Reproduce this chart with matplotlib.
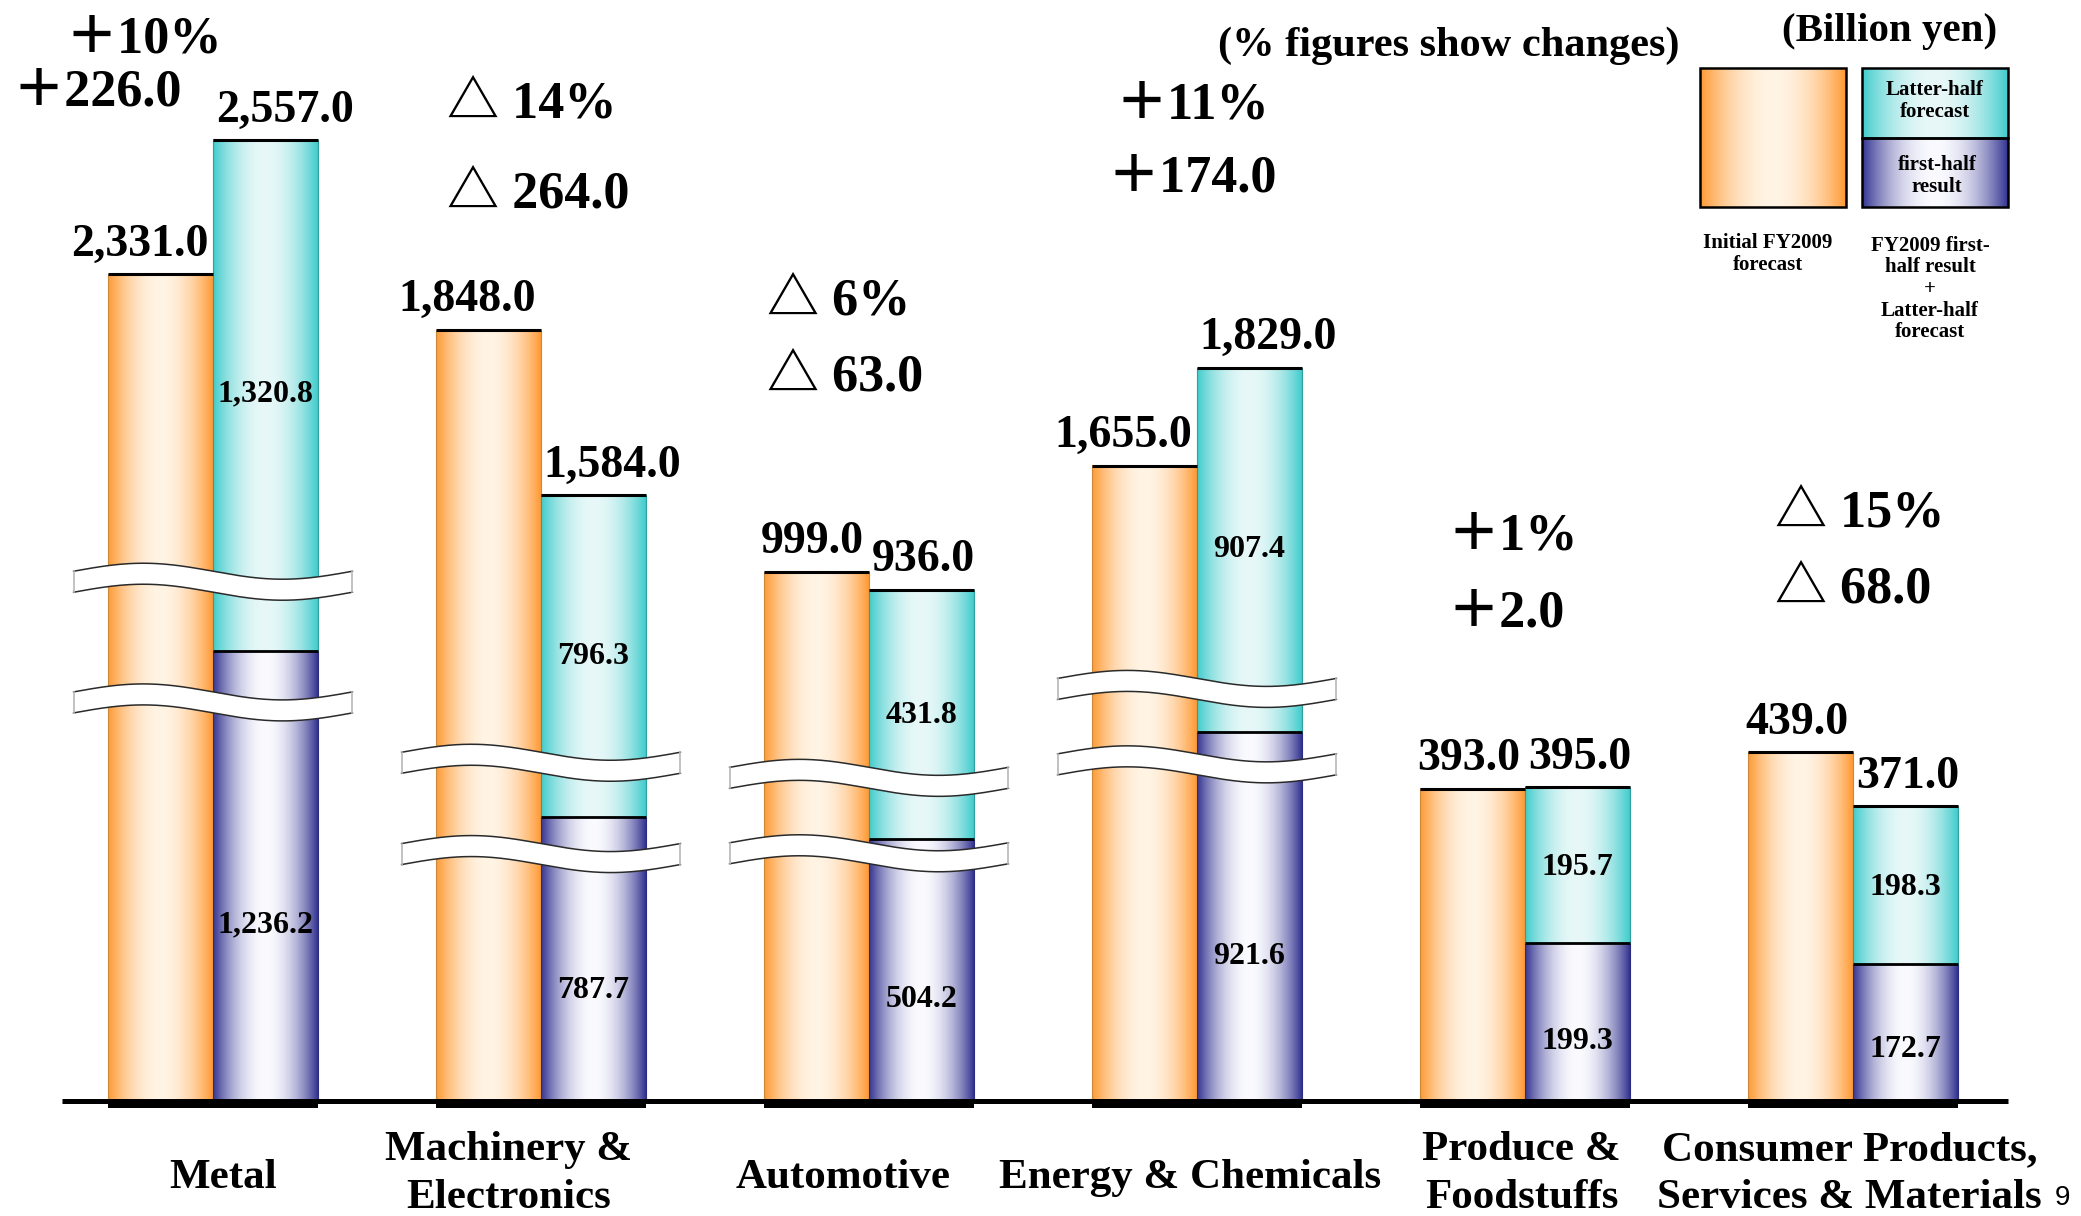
import numpy as np
import matplotlib
matplotlib.use("Agg")
import matplotlib.pyplot as plt
from matplotlib.colors import to_rgb
from matplotlib.patches import Rectangle, Polygon

# ---------------------------------------------------------------- data
categories = ["Metal", "Machinery &\nElectronics", "Automotive",
              "Energy & Chemicals", "Produce &\nFoodstuffs",
              "Consumer Products,\nServices & Materials"]
initial_forecast = [2331.0, 1848.0, 999.0, 1655.0, 393.0, 439.0]
first_half_result = [1236.2, 787.7, 504.2, 921.6, 199.3, 172.7]
latter_half_forecast = [1320.8, 796.3, 431.8, 907.4, 195.7, 198.3]

# amount of each bar left out by the wavy axis breaks (billion yen)
omitted_initial = [1290.0, 877.0, 333.0, 855.0, 0.0, 0.0]
omitted_first_half = [670.0, 430.0, 174.0, 457.0, 0.0, 0.0]
omitted_latter_half = [677.0, 391.0, 118.0, 449.0, 0.0, 0.0]

# ---------------------------------------------------------------- layout
W, H, DPI = 2081, 1216, 100
PX_PER_UNIT = 0.794          # vertical pixels per billion yen
X0_PX, STEP_PX, BASE_PX = 213, 328, 1101
BAR_W = 105 / STEP_PX

# heights (on the drawn axis) of the wavy breaks in each group
break_levels = [(654, 502), (426, 311), (407, 312), (519, 424), (), ()]
# left edge / baseline of the change annotations: (dx_pct, y_pct, dx_amt, y_amt)
change_pos = [(-0.451, 1321, -0.610, 1254), (-0.287, 1239, -0.287, 1125),
              (-0.311, 991, -0.311, 895), (-0.247, 1237, -0.274, 1145),
              (-0.235, 695, -0.235, 598), (-0.238, 723, -0.238, 628)]
cat_label_dx = [0.03, -0.10, -0.08, -0.02, -0.01, -0.01]

FONT = ["Liberation Serif", "Noto Sans CJK JP", "DejaVu Sans"]
plt.rcParams["font.family"] = FONT
plt.rcParams["font.weight"] = "bold"

ORANGE = ("#FF9933", "#FFF4E4", "#C98A3C")
TEAL = ("#40CCCC", "#E8F8F8", "#2E9E9E")
NAVY = ("#333391", "#FAFAFF", "#2B2B80")


def gradient(edge, center, p=2.0, n=256):
    t = np.linspace(0.0, 1.0, n)
    f = 1.0 - np.abs(2.0 * t - 1.0) ** p
    e = np.array(to_rgb(edge))
    c = np.array(to_rgb(center))
    return (e[None, :] * (1 - f[:, None]) + c[None, :] * f[:, None])[None, :, :]


def shaded_bar(axis, x0, x1, y0, y1, style, z=2):
    axis.imshow(gradient(style[0], style[1]), extent=[x0, x1, y0, y1],
                aspect="auto", interpolation="bilinear", zorder=z)
    axis.add_patch(Rectangle((x0, y0), x1 - x0, y1 - y0, fill=False,
                             ec=style[2], lw=0.8, zorder=z + 0.1, clip_on=False))


def axis_break(axis, xc, yc):
    hw = 0.425
    thick = 21 / PX_PER_UNIT
    amp = 8 / PX_PER_UNIT
    xs = np.linspace(xc - hw, xc + hw, 240)
    wave = amp * np.sin(2 * np.pi * (xs - xs[0]) / (2 * hw))
    upper = yc + thick / 2 + wave
    lower = yc - thick / 2 + wave
    poly = np.column_stack([np.r_[xs, xs[::-1]], np.r_[upper, lower[::-1]]])
    axis.add_patch(Polygon(poly, closed=True, fc="white", ec="none", zorder=5))
    axis.plot(xs, upper, color="#2a2a2a", lw=1.1, zorder=5.2)
    axis.plot(xs, lower, color="#2a2a2a", lw=1.1, zorder=5.2)
    for k in (0, -1):
        axis.plot([xs[k], xs[k]], [lower[k], upper[k]], color="#b8b8b8",
                  lw=1.2, zorder=5.2)


fig = plt.figure(figsize=(W / DPI, H / DPI), dpi=DPI)
ax = fig.add_axes([0, 0, 1, 1])
ax.set_xlim(-X0_PX / STEP_PX, (W - X0_PX) / STEP_PX)
ax.set_ylim(-(H - BASE_PX) / PX_PER_UNIT, BASE_PX / PX_PER_UNIT)
ax.set_autoscale_on(False)
ax.axis("off")

x = np.arange(len(categories))
init_disp = np.array(initial_forecast) - np.array(omitted_initial)
first_disp = np.array(first_half_result) - np.array(omitted_first_half)
latter_disp = np.array(latter_half_forecast) - np.array(omitted_latter_half)
totals = np.array(first_half_result) + np.array(latter_half_forecast)

for i in x:
    # initial forecast bar (left)
    shaded_bar(ax, i - BAR_W, i, 0, init_disp[i], ORANGE)
    ax.plot([i - BAR_W, i], [init_disp[i]] * 2, color="black", lw=2.2,
            solid_capstyle="butt", zorder=3)
    # first-half result + latter-half forecast stack (right)
    shaded_bar(ax, i, i + BAR_W, 0, first_disp[i], NAVY)
    top = first_disp[i] + latter_disp[i]
    shaded_bar(ax, i, i + BAR_W, first_disp[i], top, TEAL)
    ax.plot([i, i + BAR_W], [first_disp[i]] * 2, color="black", lw=2.0,
            solid_capstyle="butt", zorder=3)
    ax.plot([i, i + BAR_W], [top] * 2, color="black", lw=2.2,
            solid_capstyle="butt", zorder=3)

    for yb in break_levels[i]:
        axis_break(ax, i, yb)

    # totals above the bars
    ax.annotate(f"{initial_forecast[i]:,.1f}", (i, init_disp[i]),
                xytext=(-3.5, 13.5), textcoords="offset points",
                ha="right", va="baseline", fontsize=33, zorder=6)
    ax.annotate(f"{totals[i]:,.1f}", (i, top),
                xytext=(2.0, 13.5), textcoords="offset points",
                ha="left", va="baseline", fontsize=33, zorder=6)

    # segment values inside the stacked bar
    ax.text(i + BAR_W / 2, first_disp[i] * 0.40, f"{first_half_result[i]:,.1f}",
            ha="center", va="center_baseline", fontsize=23, zorder=6)
    ax.text(i + BAR_W / 2, first_disp[i] + latter_disp[i] * 0.51,
            f"{latter_half_forecast[i]:,.1f}",
            ha="center", va="center_baseline", fontsize=23, zorder=6)

    # change versus the initial forecast
    diff = totals[i] - initial_forecast[i]
    pct = round(abs(diff) / initial_forecast[i] * 100)
    sign = "＋" if diff >= 0 else "△ "
    dxp, yp, dxa, ya = change_pos[i]
    ax.text(i + dxp, yp, f"{sign}{pct}%", ha="left", va="baseline",
            fontsize=37.5, zorder=6)
    ax.text(i + dxa, ya, f"{sign}{abs(diff):.1f}", ha="left", va="baseline",
            fontsize=37.5, zorder=6)

    # category name
    two_lines = "\n" in categories[i]
    ax.text(i + cat_label_dx[i], -92 if two_lines else -97, categories[i],
            ha="center", va="center", multialignment="center", fontsize=31,
            linespacing=1.36, zorder=6)

    # dark foot under each pair of bars
    ax.add_patch(Rectangle((i - BAR_W, -9.4), 2 * BAR_W, 9.4, fc="black",
                           ec="none", zorder=4))

# baseline
ax.plot([-0.46, 5.472], [0, 0], color="black", lw=3.6, solid_capstyle="butt",
        zorder=4)


# ---------------------------------------------------------------- key & notes
def fxy(px, py):
    return px / W, 1 - py / H


lax = fig.add_axes([1700 / W, 1 - 207 / H, (2008 - 1700) / W, (207 - 68) / H])
lax.set_xlim(1700, 2008)
lax.set_ylim(207, 68)
lax.set_autoscale_on(False)
lax.axis("off")
for (x0, x1, y0, y1, st) in [(1700, 1846, 207, 68, ORANGE),
                             (1862, 2008, 138, 68, TEAL),
                             (1862, 2008, 207, 138, NAVY)]:
    lax.imshow(gradient(st[0], st[1]), extent=[x0, x1, y0, y1], aspect="auto",
               interpolation="bilinear", zorder=2)
    lax.add_patch(Rectangle((x0, y1), x1 - x0, y0 - y1, fill=False, ec="black",
                            lw=1.8, zorder=3, clip_on=False))

fig.text(*fxy(1935, 101), "Latter-half\nforecast", ha="center", va="center",
         fontsize=15, linespacing=1.1)
fig.text(*fxy(1937, 176), "first-half\nresult", ha="center", va="center",
         fontsize=15, linespacing=1.1)
fig.text(*fxy(1768, 254), "Initial FY2009\nforecast", ha="center", va="center",
         fontsize=15, linespacing=1.1)
fig.text(*fxy(1930, 289), "FY2009 first-\nhalf result\n+\nLatter-half\nforecast",
         ha="center", va="center", fontsize=15, linespacing=1.1)

fig.text(*fxy(1890, 31), "(Billion yen)", ha="center", va="center",
         fontsize=29.5)
fig.text(*fxy(1218, 46), "(% figures show changes)", ha="left", va="center",
         fontsize=30.5)
fig.text(*fxy(2062, 1198), "9", ha="center", va="center", fontsize=20,
         fontweight="normal", family=["Liberation Sans", "DejaVu Sans"])

fig.savefig("out.png", dpi=DPI)
